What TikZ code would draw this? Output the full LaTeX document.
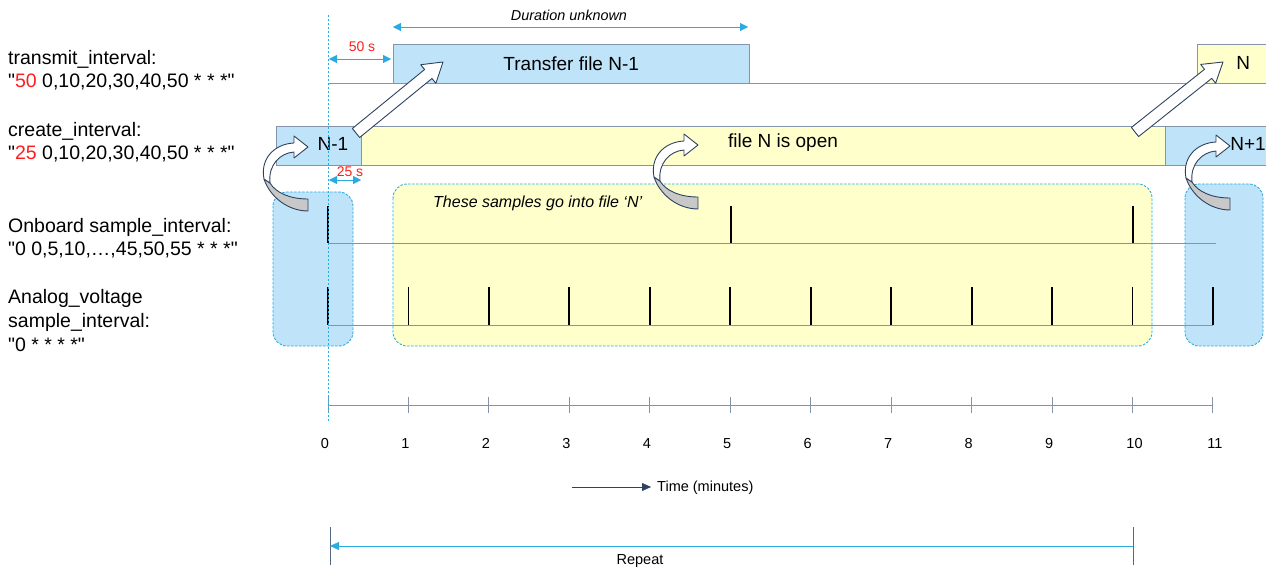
\documentclass[tikz,border=0pt]{standalone}
\usepackage{fontspec}
\setmainfont{Liberation Sans}
\usetikzlibrary{arrows.meta,calc,positioning}

\definecolor{fileblue}{RGB}{191,228,250}
\definecolor{fileyellow}{RGB}{255,255,204}
\definecolor{dimblue}{RGB}{41,171,226}
\definecolor{linegray}{RGB}{132,148,170}
\definecolor{darkline}{RGB}{46,66,96}
\definecolor{curlgray}{RGB}{200,200,200}
\definecolor{txtred}{RGB}{255,30,30}

\newcommand{\dq}{\textquotedbl}

\tikzset{lbltext/.style = {font=\fontsize{19.5}{23}\selectfont, anchor=base west, inner sep=0pt},
         boxtext/.style = {font=\fontsize{19}{23}\selectfont, inner sep=0pt},
         axistext/.style = {font=\fontsize{14.5}{16}\selectfont, inner sep=0pt},
         filebox/.style = {draw=linegray, fill=#1, minimum height=39pt, inner sep=0pt, anchor=south west},
         sampbox/.style = {draw=dimblue, line width=0.9pt, fill=#1, dash pattern=on 2.5pt off 1.5pt, rounded corners=14pt},
         dimarrow/.style = {dimblue, {Triangle[length=8pt,width=8pt]}-{Triangle[length=8pt,width=8pt]}},
         dimtext/.style = {font=\fontsize{14}{16}\selectfont, text=txtred, inner sep=0pt},
         outline/.style = {draw=darkline, line width=0.9pt, line join=round},
         sample/.style = {line width=1.8pt, black},
         curlarrow/.pic = {
           \draw[outline, fill=curlgray] (-44,32) .. controls (-38,50) and (-20,64) .. (0,64)
                 -- (0,52) .. controls (-18,52) and (-32,46) .. (-38,36) -- cycle;
           \draw[outline, fill=white] (-44,32) .. controls (-48,12) and (-34,-3) .. (-14,-4)
                 -- (-14,-11) -- (0,0) -- (-14,11) -- (-14,5)
                 .. controls (-28,6) and (-40,18) .. (-38,36) -- cycle;
         }
        }

% hollow straight arrow from #1 (tail) to #2 (tip)
\newcommand{\fatarrow}[2]{%
  \coordinate (hb) at ($(#2)!19pt!(#1)$);
  \draw[outline, fill=white] ($(#1)!5.8pt!90:(#2)$) -- ($(hb)!5.8pt!-90:(#1)$)
       -- ($(hb)!12pt!-90:(#1)$) -- (#2) -- ($(hb)!12pt!90:(#1)$)
       -- ($(hb)!5.8pt!90:(#1)$) -- ($(#1)!5.8pt!-90:(#2)$) -- cycle;
}

\begin{document}
\begin{tikzpicture}[x=1pt, y=-1pt]
  \useasboundingbox (0,0) rectangle (1266,569);
  \clip (0,0) rectangle (1266,569);

  % settings on the left
  \node[lbltext] (tx1) at (8,65) {transmit\_interval:};
  \node[lbltext] (tx2) at (8,88) {\dq{\color{txtred}50} 0,10,20,30,40,50 * * *\dq};
  \node[lbltext] (cr1) at (8,137) {create\_interval:};
  \node[lbltext] (cr2) at (8,160) {\dq{\color{txtred}25} 0,10,20,30,40,50 * * *\dq};
  \node[lbltext] (ob1) at (8,233) {Onboard sample\_interval:};
  \node[lbltext] (ob2) at (8,256) {\dq0 0,5,10,…,45,50,55 * * *\dq};
  \node[lbltext] (an1) at (8,303) {Analog\_voltage};
  \node[lbltext] (an2) at (8,327) {sample\_interval:};
  \node[lbltext] (an3) at (8,351) {\dq0 * * * *\dq};

  % sample groups
  \draw[sampbox=fileblue] (273,192) rectangle (353,346);
  \draw[sampbox=fileyellow] (393,184) rectangle (1152,346);
  \draw[sampbox=fileblue] (1185,184) rectangle (1263,346);
  \node[font=\fontsize{16}{18}\selectfont\itshape, anchor=base west, inner sep=0pt] (into) at (433,208) {These samples go into file ‘N’};

  % transmit row
  \draw[linegray] (328,83) -- (1266,83);
  \node[filebox=fileblue, minimum width=356pt, boxtext] (xfer) at (393,83) {Transfer file N-1};
  \node[filebox=fileyellow, minimum width=92pt, boxtext] (nxt) at (1197,83) {N};

  % create row
  \node[filebox=fileblue, minimum width=85pt] (old) at (276,165) {};
  \node[filebox=fileyellow, minimum width=804pt] (open) at (361,165) {};
  \node[filebox=fileblue, minimum width=166pt] (new) at (1165,165) {};
  \node[boxtext] (oldtxt) at (333,144) {N-1};
  \node[boxtext] (opentxt) at (783,143) {file N is open};
  \node[boxtext] (newtxt) at (1248,144) {N+1};

  % onboard samples
  \draw[linegray] (328,243) -- (1216,243);
  \foreach \x in {328,731,1133}
      {\draw[sample] (\x,206) -- (\x,243);};

  % analog samples
  \draw[linegray] (328,325) -- (1213,325);
  \foreach \m in {0,...,11}
      {\draw[sample] ({328+80.45*\m},287) -- ({328+80.45*\m},325);};

  % time axis
  \draw[linegray, line width=1pt] (328,405) -- (1213,405);
  \foreach \m in {0,...,11} {
      \draw[linegray, line width=1pt] ({328+80.45*\m},397) -- ({328+80.45*\m},413);
      \node[axistext, anchor=base] (t\m) at ({328+80.45*\m+(\m<10?-3:2)},448) {\m};
  }
  \coordinate (ta) at (572,487);
  \coordinate (tb) at (651,487);
  \draw[darkline, -{Triangle[length=9pt,width=8pt]}] (ta) -- (tb);
  \node[axistext, anchor=west] (time) at (657,488) {Time (minutes)};

  % start line
  \draw[dimblue, dash pattern=on 2pt off 2pt] (328,15) -- (328,422);

  % offsets and durations
  \coordinate (d1) at (393,27);
  \coordinate (d2) at (748,27);
  \draw[dimarrow] (d1) -- (d2);
  \node[axistext, font=\fontsize{14.4}{16}\selectfont\itshape] (dur) at (569,15) {Duration unknown};
  \coordinate (f1) at (329,59);
  \coordinate (f2) at (391,59);
  \draw[dimarrow] (f1) -- (f2);
  \node[dimtext] (fifty) at (362,47) {50 s};
  \coordinate (c1) at (329,180);
  \coordinate (c2) at (361,180);
  \draw[dimarrow] (c1) -- (c2);
  \node[dimtext] (twentyfive) at (350,172) {25 s};

  % repeat
  \coordinate (r1) at (330,546);
  \coordinate (r2) at (1133,546);
  \draw[darkline!80] (330,527) -- (330,565);
  \draw[darkline!80] (1133,527) -- (1133,565);
  \draw[dimblue, {Triangle[length=9pt,width=8pt]}-] (r1) -- (r2);
  \node[axistext] (rep) at (640,561) {Repeat};

  % file hand-over arrows
  \coordinate (xtail) at (356,133);
  \coordinate (xtip) at (443,62);
  \fatarrow{xtail}{xtip}
  \coordinate (ntail) at (1135,132);
  \coordinate (ntip) at (1223,62);
  \fatarrow{ntail}{ntip}
  \pic at (308,147) {curlarrow};
  \pic at (698,145) {curlarrow};
  \pic at (1230,146) {curlarrow};
\end{tikzpicture}
\end{document}
